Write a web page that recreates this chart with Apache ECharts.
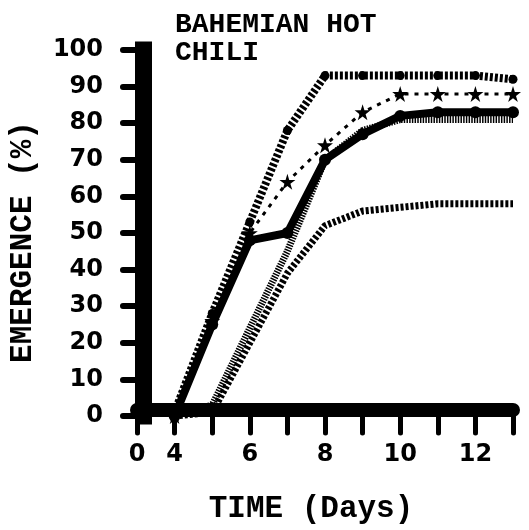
<!DOCTYPE html>
<html>
<head>
<meta charset="utf-8">
<script src="https://cdn.jsdelivr.net/npm/echarts@6/dist/echarts.min.js"></script>
<style>
html,body{margin:0;padding:0;background:#fff;}
#chart{width:529px;height:530px;}
</style>
</head>
<body>
<div id="chart"></div>
<script>
// ---- data ----
var days = [4, 5, 6, 7, 8, 9, 10, 11, 12, 13];
var seriesTop     = [1, 28, 53, 78, 93, 93, 93, 93, 93, 92];   // hatched, top plateau
var seriesStars   = [0, 26, 50, 64, 74, 83, 88, 88, 88, 88];   // star markers
var seriesCircles = [0, 25, 48, 50, 70, 77, 82, 83, 83, 83];   // circle markers
var seriesDense   = [0, 3, 24, 45, 70, 78, 81, 81, 81, 81];    // dense hatching
var seriesLow     = [0, 1, 20, 39, 52, 56, 57, 58, 58, 58];    // lower plateau
var xTickLabels = {0: '0', 4: '4', 6: '6', 8: '8', 10: '10', 12: '12'};
var yTicks = [0, 10, 20, 30, 40, 50, 60, 70, 80, 90, 100];

// broken axis: day 0 then day 4 one unit later
function pos(d) { return d === 0 ? 0 : d - 3; }
function dayOf(p) { return p === 0 ? 0 : p + 3; }
function pts(vals) { return days.map(function (d, i) { return [pos(d), vals[i]]; }); }

var star = 'path://M50,0 L61,35 L98,35 L68,57 L79,91 L50,70 L21,91 L32,57 L2,35 L39,35 Z';

var chart = echarts.init(document.getElementById('chart'));
chart.setOption({
  animation: false,
  backgroundColor: '#fff',
  title: {
    text: 'BAHEMIAN HOT\nCHILI',
    left: 170, top: 6,
    textStyle: {fontFamily: 'Liberation Mono', fontSize: 28, fontWeight: 'bold', color: '#000', lineHeight: 28}
  },
  grid: {left: 135, right: 16, top: 50, bottom: 107},
  xAxis: {
    type: 'value', min: 0, max: 10, interval: 1, offset: -6,
    name: 'TIME (Days)', nameLocation: 'middle', nameGap: 84,
    nameTextStyle: {fontFamily: 'Liberation Mono', fontWeight: 'bold', fontSize: 31, color: '#000', padding: [0, 28, 0, 0]},
    axisLine: {lineStyle: {color: '#000', width: 14}},
    axisTick: {length: 23, lineStyle: {color: '#000', width: 5, cap: 'round'}},
    axisLabel: {
      margin: 33, fontFamily: 'DejaVu Sans', fontWeight: 'bold', fontSize: 24, color: '#000',
      formatter: function (v) { var d = dayOf(v); return xTickLabels[d] || ''; }
    },
    splitLine: {show: false}
  },
  yAxis: {
    type: 'value', min: 0, max: 100, interval: 10, offset: -6,
    name: 'EMERGENCE (%)', nameLocation: 'middle', nameGap: 104, nameRotate: 90,
    nameTextStyle: {fontFamily: 'Liberation Mono', fontWeight: 'bold', fontSize: 31, color: '#000', padding: [0, 18, 0, 0]},
    axisLine: {show: true, lineStyle: {color: '#000', width: 17, cap: 'square'}},
    axisTick: {show: true, length: 20, lineStyle: {color: '#000', width: 6, cap: 'round'}},
    axisLabel: {margin: 40, fontFamily: 'DejaVu Sans', fontWeight: 'bold', fontSize: 24, color: '#000',
      formatter: function (v) { return yTicks.indexOf(v) >= 0 ? String(v) : ''; }},
    splitLine: {show: false}
  },
  series: [
    {type: 'line', data: pts(seriesLow), symbol: 'none',
      lineStyle: {color: '#000', width: 7, type: [3, 2]}},
    {type: 'line', data: pts(seriesDense), symbol: 'none',
      lineStyle: {color: '#000', width: 7, type: [1.5, 1.2]}},
    {type: 'line', data: pts(seriesCircles), symbol: 'circle', symbolSize: 12,
      itemStyle: {color: '#000'}, lineStyle: {color: '#000', width: 8}},
    {type: 'line', data: pts(seriesStars), symbol: star, symbolSize: 16,
      itemStyle: {color: '#000'}, lineStyle: {color: '#000', width: 3, type: [4, 6]}},
    {type: 'line', data: pts(seriesTop), symbol: 'circle', symbolSize: 9,
      itemStyle: {color: '#000'}, lineStyle: {color: '#000', width: 8, type: [3, 2]}}
  ]
});
</script>
</body>
</html>
